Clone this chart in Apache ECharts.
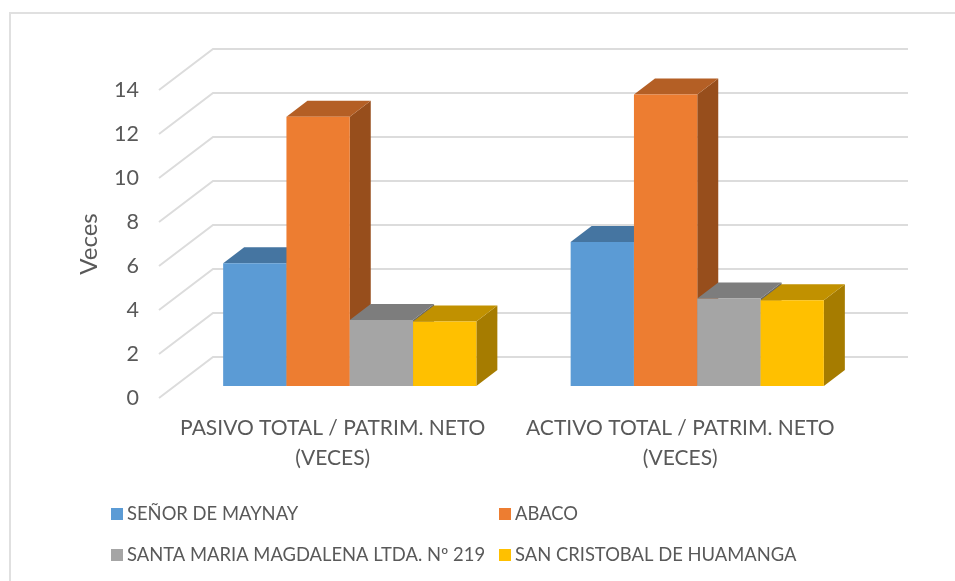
<!DOCTYPE html>
<html>
<head>
<meta charset="utf-8">
<style>
  html, body { margin: 0; padding: 0; background: #fff; }
  #myChart { width: 955px; height: 581px; }
</style>
</head>
<body>
<div id="myChart"></div>
<script src="https://cdn.jsdelivr.net/npm/echarts@6/dist/echarts.min.js"></script>
<script>
const categories = ['PASIVO TOTAL / PATRIM. NETO\n(VECES)', 'ACTIVO TOTAL / PATRIM. NETO\n(VECES)']
const yTicks = [0, 2, 4, 6, 8, 10, 12, 14]
const seriesNames = ['SEÑOR DE MAYNAY', 'ABACO', 'SANTA MARIA MAGDALENA LTDA. Nº 219', 'SAN CRISTOBAL DE HUAMANGA']
const maynay = [5.58, 6.55]
const abaco = [12.24, 13.25]
const santaMaria = [3.0, 3.98]
const sanCristobal = [2.93, 3.9]

const colors = ['#5b9bd5', '#ed7d31', '#a5a5a5', '#ffc000']
const topColors = ['#4575a1', '#b45f25', '#7d7d7d', '#c19100']
const sideColors = ['#3a6288', '#974e1c', '#686868', '#a67c00']
const fontFamily = 'Lato'

// pseudo 3D depth, in pixels
const wallDx = 54
const wallDy = -41
const barOffsetX = 17
const barOffsetY = -12
const barDepthX = 21
const barDepthY = -16
const barFraction = 63.3 / 347.5

function renderBar(index) {
  return function(params, api) {
    const cat = api.value(0)
    const base = api.coord([cat, 0])
    const top = api.coord([cat, api.value(1)])
    const width = api.size([1, 0])[0] * barFraction
    const left = base[0] + barOffsetX + (index - 2) * width
    const right = left + width
    const y0 = base[1] + barOffsetY
    const y1 = top[1] + barOffsetY
    return {
      type: 'group',
      children: [
        {
          type: 'polygon',
          shape: { points: [[right, y0], [right + barDepthX, y0 + barDepthY], [right + barDepthX, y1 + barDepthY], [right, y1]] },
          style: { fill: sideColors[index] }
        },
        {
          type: 'polygon',
          shape: { points: [[left, y1], [left + barDepthX, y1 + barDepthY], [right + barDepthX, y1 + barDepthY], [right, y1]] },
          style: { fill: topColors[index] }
        },
        {
          type: 'rect',
          shape: { x: left, y: y1, width: width, height: y0 - y1 },
          style: { fill: colors[index] }
        }
      ]
    }
  }
}

function renderWallLine(params, api) {
  const p = api.coord([0, api.value(0)])
  const x0 = params.coordSys.x
  const x1 = x0 + params.coordSys.width
  return {
    type: 'polyline',
    shape: { points: [[x0, p[1]], [x0 + wallDx, p[1] + wallDy], [x1 + wallDx, p[1] + wallDy]] },
    style: { stroke: '#dcdcdc', lineWidth: 2, fill: 'none' }
  }
}

const barData = [maynay, abaco, santaMaria, sanCristobal]
const legendPos = [[111, 505], [499, 505], [111, 546], [499, 546]]

const chart = echarts.init(document.getElementById('myChart'), null, { renderer: 'canvas' })
chart.setOption({
  animation: false,
  textStyle: { fontFamily: fontFamily },
  graphic: [{
    type: 'polyline',
    silent: true,
    shape: { points: [[10, 581], [10, 13], [955, 13]] },
    style: { stroke: '#e0e0e0', lineWidth: 2, fill: 'none' }
  }],
  grid: { left: 159, right: 101, top: 90, bottom: 183 },
  legend: seriesNames.map((name, i) => ({
    data: [name],
    left: legendPos[i][0],
    top: legendPos[i][1],
    padding: 0,
    itemWidth: 12,
    itemHeight: 12,
    itemGap: 0,
    icon: 'rect',
    selectedMode: false,
    textStyle: { color: '#595959', fontSize: 18.4, fontFamily: fontFamily, padding: [0, 0, 0, -1] }
  })),
  xAxis: {
    type: 'category',
    data: categories,
    axisLine: { show: false },
    axisTick: { show: false },
    axisLabel: { color: '#595959', fontSize: 21, lineHeight: 30, margin: 15, interval: 0 }
  },
  yAxis: {
    type: 'value',
    min: yTicks[0],
    max: yTicks[yTicks.length - 1],
    interval: 2,
    name: 'Veces',
    nameLocation: 'middle',
    nameGap: 58,
    nameTextStyle: { color: '#595959', fontSize: 24 },
    axisLine: { show: false },
    axisTick: { show: false },
    splitLine: { show: false },
    axisLabel: { color: '#595959', fontSize: 21.5, margin: 20, padding: [2, 0, 0, 0] }
  },
  series: [
    {
      type: 'custom',
      silent: true,
      z: 1,
      data: yTicks.map(t => [t]),
      encode: { y: 0 },
      renderItem: renderWallLine
    }
  ].concat(seriesNames.map((name, i) => ({
    type: 'custom',
    name: name,
    z: 2 + i,
    itemStyle: { color: colors[i] },
    data: barData[i].map((v, c) => [c, v]),
    encode: { x: 0, y: 1 },
    renderItem: renderBar(i)
  })))
})
</script>
</body>
</html>
